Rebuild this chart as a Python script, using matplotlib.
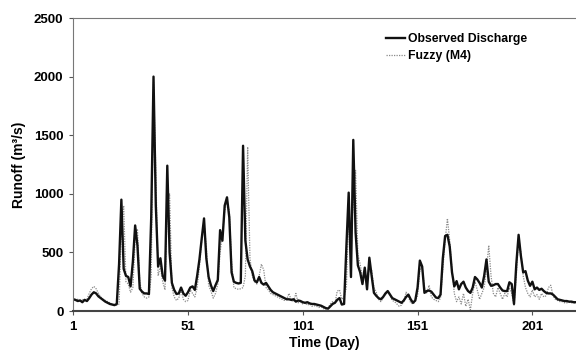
import matplotlib
matplotlib.use('Agg')
import matplotlib.pyplot as plt
import numpy as np

plt.rcParams['font.family'] = ['Liberation Sans', 'DejaVu Sans']

# daily runoff (m3/s), days 1..220
observed = [
    100, 95, 85, 90, 75, 95, 85, 110, 140, 160,
    150, 125, 110, 95, 80, 70, 60, 55, 50, 60,
    400, 950, 360, 300, 290, 210, 420, 730, 560, 190,
    165, 150, 150, 145, 800, 2000, 900, 380, 450, 300,
    260, 1240, 500, 240, 180, 145, 150, 200, 150, 130,
    160, 200, 210, 180, 300, 440, 620, 790, 450, 290,
    220, 170, 220, 265, 690, 600, 900, 970, 800, 330,
    250, 240, 235, 240, 1410, 600, 440, 380, 340, 260,
    245, 290, 240, 225, 240, 210, 180, 160, 150, 140,
    130, 120, 110, 100, 100, 95, 100, 80, 90, 85,
    75, 70, 75, 65, 60, 60, 55, 50, 45, 35,
    25, 20, 40, 60, 70, 95, 110, 55, 60, 550,
    1010, 290, 1460, 670, 390, 330, 230, 370, 185, 455,
    300, 155, 130, 110, 100, 120, 150, 170, 140, 110,
    100, 90, 80, 70, 90, 120, 140, 100, 70, 90,
    200, 430, 380, 155, 170, 175, 165, 140, 115, 110,
    140, 450, 640, 650, 550, 330, 210, 255, 185, 230,
    250, 200, 170, 155, 200, 290, 270, 240, 200, 300,
    440, 250, 215, 220, 230, 230, 200, 175, 170, 170,
    245, 230, 60, 400, 650, 470, 330, 340, 260, 215,
    250, 185, 200, 180, 190, 170, 155, 150, 150, 140,
    120, 100, 95, 90, 85, 85, 80, 80, 75, 75,
]

fuzzy_m4 = [
    110, 90, 100, 80, 100, 90, 100, 150, 190, 210,
    190, 150, 120, 100, 90, 80, 70, 60, 55, 50,
    60, 700, 900, 250, 230, 160, 200, 600, 700, 250,
    150, 120, 110, 120, 300, 1950, 1200, 300, 380, 250,
    180, 900, 1000, 200, 120, 90, 110, 180, 100, 80,
    90, 180, 150, 120, 200, 380, 600, 750, 550, 220,
    170, 110, 150, 230, 500, 650, 850, 950, 850, 420,
    200, 190, 185, 190, 200, 300, 1400, 450, 300, 250,
    230, 300, 400, 350, 200, 180, 150, 140, 130, 120,
    110, 100, 90, 100, 150, 90, 80, 150, 70, 80,
    60, 70, 50, 60, 40, 45, 40, 30, 35, 20,
    15, 25, 60, 80, 60, 170, 180, 100, 120, 200,
    850, 700, 900, 1200, 480, 400, 280, 300, 250, 350,
    350, 200, 160, 100, 80, 110, 140, 160, 130, 90,
    80, 60, 40, 50, 80, 160, 120, 70, 60, 80,
    130, 350, 380, 200, 150, 220, 120, 100, 90, 80,
    110, 350, 600, 790, 600, 350, 150, 80, 120, 60,
    150, 40, 100, 10, 150, 250, 180, 100, 150, 200,
    350, 560, 300, 150, 120, 200, 150, 100, 150, 120,
    200, 150, 50, 300, 620, 500, 300, 200, 150, 120,
    180, 120, 140, 100, 150, 120, 130, 200, 220, 130,
    100, 90, 80, 80, 70, 70, 75, 70, 70, 65,
]

days = np.arange(1, len(observed) + 1)
xticks = [1, 51, 101, 151, 201]
yticks = [0, 500, 1000, 1500, 2000, 2500]

fig = plt.figure(figsize=(5.76, 3.61), dpi=100)
ax = fig.add_axes([0.127, 0.1385, 0.873, 0.8116])

ax.plot(days, fuzzy_m4, color='#8a8a8a', linewidth=0.9, linestyle=(0, (1, 1)),
        label='Fuzzy (M4)')
ax.plot(days, observed, color='#111111', linewidth=1.7, label='Observed Discharge')

ax.set_xlim(1, 220)
ax.set_ylim(0, 2500)
ax.set_xticks(xticks)
ax.set_yticks(yticks)
ax.tick_params(labelsize=9.5, length=3, width=0.8, color='#555555', pad=4)
for lbl in ax.get_xticklabels() + ax.get_yticklabels():
    lbl.set_fontweight('bold')

ax.spines['right'].set_visible(False)
ax.spines['top'].set_linestyle((0, (1, 1)))
ax.spines['top'].set_color('#777777')
ax.spines['top'].set_linewidth(0.8)
ax.spines['left'].set_color('#777777')
ax.spines['bottom'].set_color('#444444')
ax.spines['bottom'].set_linewidth(1.5)

ax.set_xlabel('Time (Day)', fontsize=10, fontweight='bold', labelpad=2)
ax.set_ylabel('Runoff (m\u00b3/s)', fontsize=10, fontweight='bold', labelpad=6)

handles, labels = ax.get_legend_handles_labels()
ax.legend(handles[::-1], labels[::-1], loc='upper left', bbox_to_anchor=(0.6, 0.985),
          frameon=False, prop={'weight': 'bold', 'size': 8.8},
          handlelength=1.6, handletextpad=0.2, labelspacing=0.4)

fig.savefig('out.png', dpi=100)
